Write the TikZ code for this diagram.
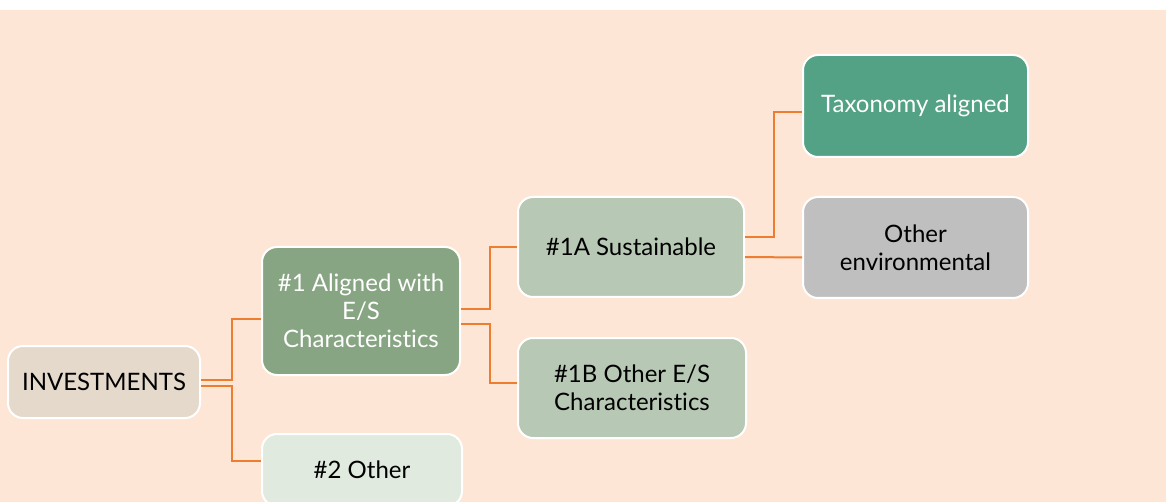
\documentclass[tikz,border=0pt]{standalone}
\usepackage{fontspec}
\setmainfont{Lato}[Ligatures=NoCommon]
\definecolor{peach}{HTML}{FEE6D6}
\definecolor{linkorange}{HTML}{ED7D31}
\definecolor{invfill}{HTML}{E5D9CC}
\definecolor{alignfill}{HTML}{87A582}
\definecolor{otherfill}{HTML}{E0EADE}
\definecolor{subfill}{HTML}{B7C9B4}
\definecolor{taxfill}{HTML}{54A285}
\definecolor{envfill}{HTML}{BFBFBF}

\begin{document}
\begin{tikzpicture}[x=1pt,y=-1pt,
    box/.style={draw=white, line width=2pt, rounded corners=15pt, align=center,
      font=\fontsize{24}{28}\selectfont, inner sep=0pt},
    link/.style={draw=linkorange, line width=2pt}]
      \useasboundingbox (0,0) rectangle (1166,502);
      \fill[white] (0,0) rectangle (1166,10);
      \fill[peach] (0,10) rectangle (1166,502);
      \node[box, fill=invfill, minimum width=192pt, minimum height=72pt] (inv) at (104,382) {INVESTMENTS};
      \node[box, fill=alignfill, text=white, minimum width=198pt, minimum height=128pt] (a1) at (361,311) {\#1 Aligned with\\E/S\\Characteristics};
      \node[box, fill=otherfill, minimum width=200pt, minimum height=72pt] (o2) at (362,470) {\#2 Other};
      \node[box, fill=subfill, minimum width=226pt, minimum height=100pt] (s1a) at (631,247) {\#1A Sustainable};
      \node[box, fill=subfill, minimum width=228pt, minimum height=100pt] (o1b) at (632,388) {\#1B Other E/S\\Characteristics};
      \node[box, fill=taxfill, text=white, minimum width=225pt, minimum height=102pt] (tax) at (915.5,106) {Taxonomy aligned};
      \node[box, fill=envfill, minimum width=225pt, minimum height=101pt] (env) at (915.5,247.5) {Other\\environmental};
      \draw[link] ([yshift=2pt]inv.east) -- ++(31,0) |- ([yshift=-8pt]a1.west);
      \draw[link] ([yshift=-4pt]inv.east) -- ++(31,0) |- ([yshift=9pt]o2.west);
      \draw[link] ([yshift=2pt]a1.east) -- ++(29,0) |- (s1a.west);
      \draw[link] ([yshift=-13pt]a1.east) -- ++(29,0) |- ([yshift=5pt]o1b.west);
      \draw[link] ([yshift=10pt]s1a.east) -- ++(29,0) |- ([yshift=-6pt]tax.west);
      \draw[link] ([yshift=-10pt]s1a.east) -- ([yshift=-10pt]env.west);
    \end{tikzpicture}
\end{document}
